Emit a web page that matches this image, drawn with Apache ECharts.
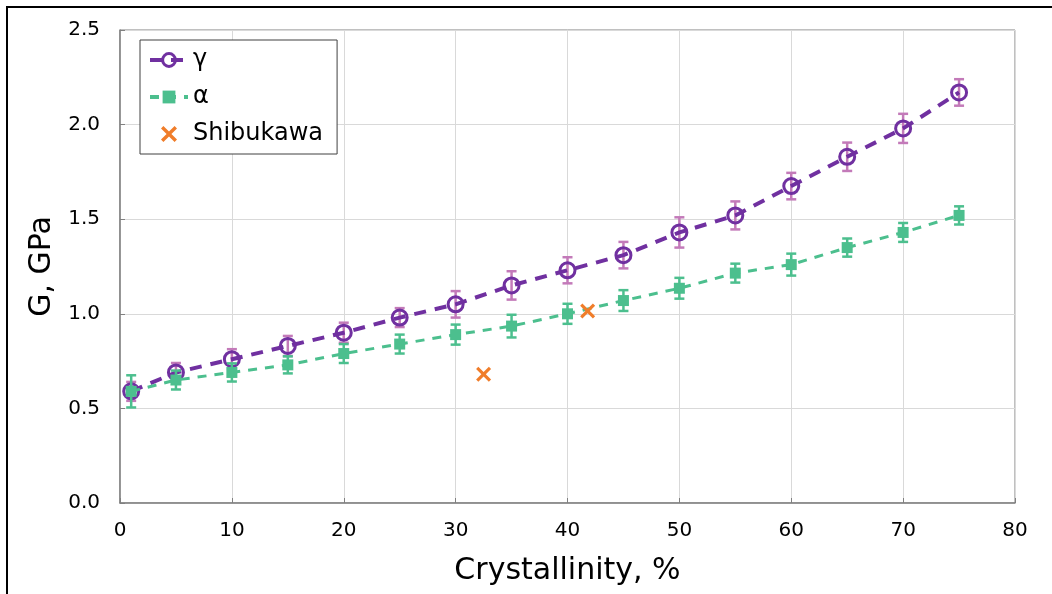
<!DOCTYPE html>
<html>
<head>
<meta charset="utf-8">
<script src="https://cdn.jsdelivr.net/npm/echarts@6/dist/echarts.min.js"></script>
<style>
  html, body { margin: 0; padding: 0; background: #fff; }
  #chart { width: 1052px; height: 594px; }
</style>
</head>
<body>
<div id="chart"></div>
<script>
// crystallinity, %
var crystallinity = [1, 5, 10, 15, 20, 25, 30, 35, 40, 45, 50, 55, 60, 65, 70, 75]
// G, GPa
var gammaG = [0.59, 0.69, 0.76, 0.83, 0.90, 0.98, 1.05, 1.15, 1.23, 1.31, 1.43, 1.52, 1.675, 1.83, 1.98, 2.17]
var gammaErr = [0.05, 0.05, 0.053, 0.053, 0.053, 0.05, 0.07, 0.075, 0.069, 0.07, 0.08, 0.074, 0.07, 0.075, 0.077, 0.07]
var alphaG = [0.59, 0.65, 0.69, 0.73, 0.79, 0.84, 0.89, 0.935, 1.0, 1.07, 1.135, 1.215, 1.26, 1.35, 1.43, 1.52]
var alphaErr = [0.085, 0.05, 0.048, 0.045, 0.05, 0.05, 0.053, 0.06, 0.053, 0.055, 0.055, 0.05, 0.058, 0.048, 0.05, 0.048]
var shibukawaX = [32.5, 41.8]
var shibukawaG = [0.68, 1.015]

var purple = '#7030a0'
var purpleErr = '#c37ab9'
var green = '#4cbf8e'
var orange = '#f07d2a'

function pairs(xs, ys) {
  return xs.map(function (x, i) { return [x, ys[i]] })
}
function errData(xs, ys, es) {
  return xs.map(function (x, i) { return [x, ys[i] - es[i], ys[i] + es[i]] })
}
function errRender(color) {
  return function (params, api) {
    var x = api.value(0)
    var top = api.coord([x, api.value(2)])
    var bot = api.coord([x, api.value(1)])
    var w = 5
    var st = { stroke: color, lineWidth: 2.5 }
    return {
      type: 'group',
      children: [
        { type: 'line', shape: { x1: top[0], y1: top[1], x2: bot[0], y2: bot[1] }, style: st },
        { type: 'line', shape: { x1: top[0] - w, y1: top[1], x2: top[0] + w, y2: top[1] }, style: st },
        { type: 'line', shape: { x1: bot[0] - w, y1: bot[1], x2: bot[0] + w, y2: bot[1] }, style: st }
      ]
    }
  }
}

var font = 'DejaVu Sans'
var myChart = echarts.init(document.getElementById('chart'))
myChart.setOption({
  animation: false,
  textStyle: { fontFamily: font, color: '#000' },
  graphic: [
    {
      type: 'rect',
      shape: { x: 7, y: 7, width: 1200, height: 800 },
      style: { fill: 'none', stroke: '#000', lineWidth: 2 },
      silent: true
    }
  ],
  grid: {
    left: 120,
    right: 37,
    top: 30,
    bottom: 91,
    show: true,
    borderColor: '#808080',
    borderWidth: 1
  },
  legend: {
    orient: 'vertical',
    left: 140,
    top: 40,
    padding: [8, 14, 8, 8],
    itemGap: 13,
    itemWidth: 38,
    itemHeight: 16,
    backgroundColor: '#fff',
    borderColor: '#404040',
    borderWidth: 1,
    borderRadius: 0,
    lineStyle: { width: 4 },
    itemStyle: { borderWidth: 3 },
    textStyle: { fontFamily: font, fontSize: 24, color: '#000' },
    data: ['γ', 'α', 'Shibukawa']
  },
  xAxis: {
    type: 'value',
    min: 0,
    max: 80,
    interval: 10,
    name: 'Crystallinity, %',
    nameLocation: 'middle',
    nameGap: 53,
    nameTextStyle: { fontFamily: font, fontSize: 30, color: '#000' },
    axisLine: { lineStyle: { color: '#808080', width: 1.5 } },
    axisTick: { inside: true, length: 5, lineStyle: { color: '#808080' } },
    axisLabel: { fontFamily: font, fontSize: 20, color: '#000', margin: 18 },
    splitLine: { lineStyle: { color: '#d9d9d9', width: 1 } }
  },
  yAxis: {
    type: 'value',
    min: 0,
    max: 2.5,
    interval: 0.5,
    name: 'G, GPa',
    nameLocation: 'middle',
    nameGap: 60,
    nameTextStyle: { fontFamily: font, fontSize: 30, color: '#000' },
    axisLine: { show: true, lineStyle: { color: '#808080', width: 1.5 } },
    axisTick: { show: true, inside: true, length: 5, lineStyle: { color: '#808080' } },
    axisLabel: {
      fontFamily: font, fontSize: 20, color: '#000', margin: 20,
      formatter: function (v) { return v.toFixed(1) }
    },
    splitLine: { lineStyle: { color: '#d9d9d9', width: 1 } }
  },
  series: [
    {
      name: 'γ err',
      type: 'custom',
      renderItem: errRender(purpleErr),
      data: errData(crystallinity, gammaG, gammaErr),
      encode: { x: 0, y: [1, 2] },
      z: 2
    },
    {
      name: 'γ',
      type: 'line',
      data: pairs(crystallinity, gammaG),
      symbol: 'circle',
      symbolSize: 15,
      lineStyle: { color: purple, width: 4, type: [12, 9] },
      itemStyle: { color: 'rgba(255,255,255,0)', borderColor: purple, borderWidth: 3 },
      z: 3
    },
    {
      name: 'α err',
      type: 'custom',
      renderItem: errRender(green),
      data: errData(crystallinity, alphaG, alphaErr),
      encode: { x: 0, y: [1, 2] },
      z: 4
    },
    {
      name: 'α',
      type: 'line',
      data: pairs(crystallinity, alphaG),
      symbol: 'rect',
      symbolSize: 11,
      lineStyle: { color: green, width: 3, type: [9, 8] },
      itemStyle: { color: green },
      z: 5
    },
    {
      name: 'Shibukawa',
      type: 'scatter',
      data: pairs(shibukawaX, shibukawaG),
      symbol: 'path://M1.5,0L5,3.5L8.5,0L10,1.5L6.5,5L10,8.5L8.5,10L5,6.5L1.5,10L0,8.5L3.5,5L0,1.5Z',
      symbolSize: 15,
      itemStyle: { color: orange, opacity: 1 },
      z: 6
    }
  ]
})
</script>
</body>
</html>
